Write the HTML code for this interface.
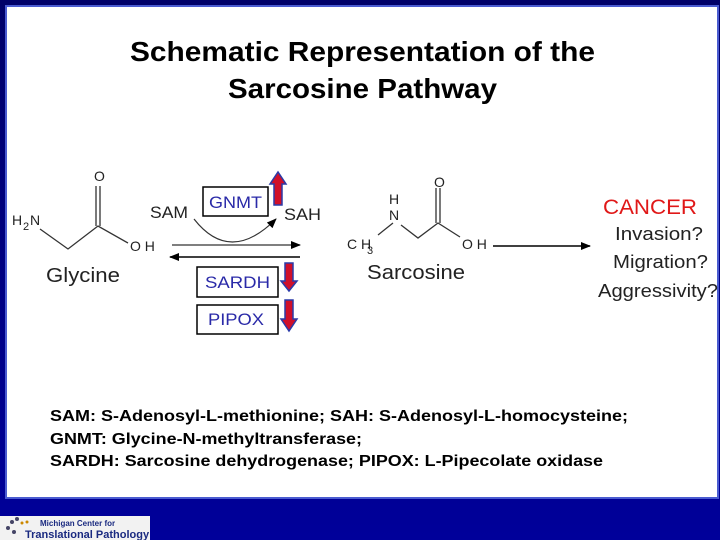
<!DOCTYPE html>
<html><head><style>
body{margin:0;width:720px;height:540px;background:#00008a;overflow:hidden;font-family:"Liberation Sans",Arial,sans-serif;}
#p{position:absolute;left:7px;top:7px;width:710px;height:490px;background:#fff;box-shadow:0 0 0 2px #4a5bd0;}
</style></head><body>
<div style="position:absolute;left:0;top:0;width:720px;height:540px;background:linear-gradient(#000068,#00009a);"></div>
<div id="p"></div>
<svg width="720" height="540" style="position:absolute;left:0;top:0" font-family="Liberation Sans, Arial, sans-serif">
<defs><marker id="a" markerWidth="10" markerHeight="8" refX="9" refY="4" orient="auto" markerUnits="userSpaceOnUse"><path d="M0,0L10,4L0,8z" fill="#000"/></marker></defs>
<g font-weight="bold" font-size="28" fill="#000" lengthAdjust="spacingAndGlyphs">
<text x="130" y="61" textLength="465" lengthAdjust="spacingAndGlyphs">Schematic Representation of the</text>
<text x="228" y="98" textLength="269" lengthAdjust="spacingAndGlyphs">Sarcosine Pathway</text></g>
<g stroke="#333" stroke-width="1.3" fill="none">
<path d="M40,229L68,249L98,226L128,243"/><path d="M96,226V186M100,226V186"/>
<path d="M378,235L393,223M401,225L418,238L438,223L460,237"/><path d="M436,223V188M440,223V188"/>
</g>
<g font-size="14" fill="#222">
<text x="12" y="225">H</text><text x="23" y="230" font-size="11">2</text><text x="30" y="225">N</text>
<text x="94" y="181">O</text><text x="130" y="251">O H</text>
<text x="389" y="204">H</text><text x="389" y="220">N</text><text x="434" y="187">O</text>
<text x="347" y="249">C H</text><text x="367" y="254" font-size="11">3</text><text x="462" y="249">O H</text>
</g>
<text x="46" y="282" font-size="20" fill="#222" textLength="74" lengthAdjust="spacingAndGlyphs">Glycine</text>
<text x="367" y="279" font-size="20" fill="#222" textLength="98" lengthAdjust="spacingAndGlyphs">Sarcosine</text>
<text x="150" y="218" font-size="17" fill="#222" textLength="38" lengthAdjust="spacingAndGlyphs">SAM</text>
<text x="284" y="220" font-size="17" fill="#222" textLength="37" lengthAdjust="spacingAndGlyphs">SAH</text>
<path d="M194,219Q230,265 276,219" stroke="#333" stroke-width="1.2" fill="none" marker-end="url(#a)"/>
<line x1="172" y1="245" x2="300" y2="245" stroke="#333" stroke-width="1.2" marker-end="url(#a)"/>
<line x1="300" y1="257" x2="170" y2="257" stroke="#000" stroke-width="1.5" marker-end="url(#a)"/>
<line x1="493" y1="246" x2="590" y2="246" stroke="#000" stroke-width="1.5" marker-end="url(#a)"/>
<g fill="#fff" stroke="#000" stroke-width="1.5">
<rect x="203" y="187" width="65" height="29"/><rect x="197" y="267" width="81" height="30"/><rect x="197" y="305" width="81" height="29"/></g>
<g font-size="17" fill="#2a2aa8">
<text x="209" y="208" textLength="53" lengthAdjust="spacingAndGlyphs">GNMT</text><text x="205" y="288" textLength="65" lengthAdjust="spacingAndGlyphs">SARDH</text><text x="208" y="325" textLength="56" lengthAdjust="spacingAndGlyphs">PIPOX</text></g>
<g stroke="#2a3aa8" stroke-width="1.5" fill="#d0102a">
<path d="M274,205V184H270L278,172L286,184H282V205Z"/>
<path d="M285,263V281H281L289,291L297,281H293V263Z"/>
<path d="M285,300V319H281L289,331L297,319H293V300Z"/></g>
<text x="603" y="214" font-size="21" fill="#e01818" textLength="94" lengthAdjust="spacingAndGlyphs">CANCER</text>
<g font-size="18" fill="#222"><text x="615" y="240" textLength="88" lengthAdjust="spacingAndGlyphs">Invasion?</text><text x="613" y="268" textLength="95" lengthAdjust="spacingAndGlyphs">Migration?</text><text x="598" y="297" textLength="120" lengthAdjust="spacingAndGlyphs">Aggressivity?</text></g>
<g font-size="16" font-weight="bold" fill="#000">
<text x="50" y="421" textLength="578" lengthAdjust="spacingAndGlyphs">SAM: S-Adenosyl-L-methionine; SAH: S-Adenosyl-L-homocysteine;</text>
<text x="50" y="444" textLength="312" lengthAdjust="spacingAndGlyphs">GNMT: Glycine-N-methyltransferase;</text>
<text x="50" y="466" textLength="553" lengthAdjust="spacingAndGlyphs">SARDH: Sarcosine dehydrogenase; PIPOX: L-Pipecolate oxidase</text></g>
<rect x="0" y="516" width="150" height="24" fill="#f2f2f2"/>
<g fill="#446"><circle cx="12" cy="522" r="2"/><circle cx="17" cy="519" r="2"/><circle cx="8" cy="528" r="2"/><circle cx="14" cy="532" r="2"/><circle cx="22" cy="523" r="1.5" fill="#c80"/><circle cx="27" cy="522" r="1.5" fill="#c80"/></g>
<text x="40" y="526" font-size="8" font-weight="bold" fill="#1a2a80">Michigan Center for</text>
<text x="25" y="538" font-size="11" font-weight="bold" fill="#1a2a80">Translational Pathology</text>
</svg>
</body></html>
